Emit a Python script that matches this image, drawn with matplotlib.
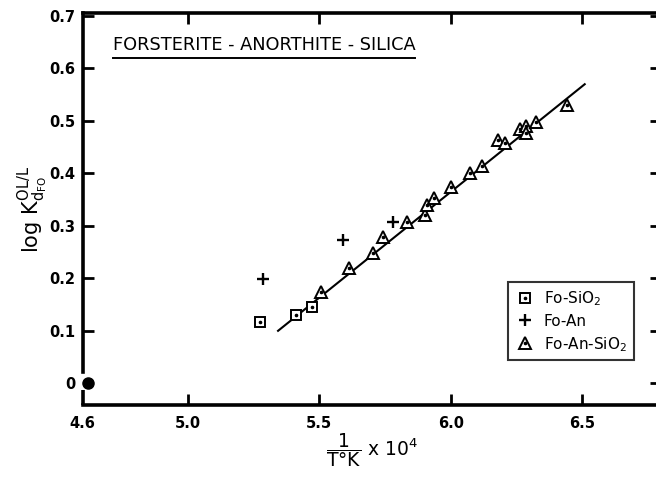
import numpy as np
import matplotlib
matplotlib.use("Agg")
import matplotlib.pyplot as plt
from matplotlib.legend_handler import HandlerTuple

plt.rcParams['font.family'] = ['DejaVu Sans']
plt.rcParams['mathtext.fontset'] = 'dejavusans'

# Fo-SiO2 runs
fs_x = [5.274, 5.411, 5.472]
fs_y = [0.116, 0.130, 0.145]

# Fo-An runs
fa_x = [5.285, 5.589, 5.779]
fa_y = [0.198, 0.272, 0.307]

# Fo-An-SiO2 runs
fas_x = [5.505, 5.613, 5.705, 5.743, 5.835, 5.901, 5.911, 5.937, 6.000,
         6.073, 6.120, 6.179, 6.205, 6.264, 6.284, 6.287, 6.323, 6.440]
fas_y = [0.174, 0.219, 0.247, 0.278, 0.307, 0.320, 0.339, 0.352, 0.374,
         0.400, 0.414, 0.463, 0.457, 0.485, 0.490, 0.476, 0.498, 0.530]

# fitted line end points
fit_x = [5.343, 6.509]
fit_y = [0.0996, 0.5695]

# reference point on the y axis
origin_x = [4.62]
origin_y = [0.0]

xticks = [4.6, 5.0, 5.5, 6.0, 6.5]
xticklabels = ['4.6', '5.0', '5.5', '6.0', '6.5']
yticks = [0.0, 0.1, 0.2, 0.3, 0.4, 0.5, 0.6, 0.7]
yticklabels = ['0', '0.1', '0.2', '0.3', '0.4', '0.5', '0.6', '0.7']

fig = plt.figure(figsize=(6.56, 4.80), dpi=100)
ax = fig.add_axes([0.126, 0.156, 0.882, 0.8167])
ax.set_xlim(4.6, 6.8)
ax.set_ylim(-0.042, 0.705)

lw = 2.6
for side in ['left', 'bottom', 'top', 'right']:
    ax.spines[side].set_linewidth(lw)

# gap in the left spine around zero
ax.spines['left'].set_bounds(0.021, 0.705)
ax.plot([0, 0], [-0.042, -0.013], transform=ax.get_yaxis_transform(),
        color='k', lw=lw, clip_on=False, solid_capstyle='butt')

ax.set_xticks(xticks)
ax.set_xticklabels(xticklabels)
ax.set_yticks(yticks)
ax.set_yticklabels(yticklabels)
ax.tick_params(axis='both', direction='in', length=8, width=2,
               labelsize=10.5, top=True, right=True)
ax.tick_params(axis='x', pad=8)
ax.tick_params(axis='y', pad=5)
for lab in ax.get_xticklabels() + ax.get_yticklabels():
    lab.set_fontweight('bold')
# first x tick sits on the spine, no tick mark there; no left tick at 0
ax.xaxis.get_major_ticks()[0].tick1line.set_visible(False)
ax.xaxis.get_major_ticks()[0].tick2line.set_visible(False)
ax.yaxis.get_major_ticks()[0].tick1line.set_visible(False)

ax.plot(origin_x, origin_y, 'o', color='k', ms=8, clip_on=False, zorder=5)

ax.plot(fit_x, fit_y, color='k', lw=1.5, zorder=2)

sq = ax.plot(fs_x, fs_y, 's', ms=6.5, mfc='white', mec='k', mew=1.4,
             ls='none', zorder=3)[0]
sq_dot = ax.plot(fs_x, fs_y, 'o', ms=1.6, color='k', ls='none', zorder=4)[0]
pl = ax.plot(fa_x, fa_y, '+', ms=8.5, mew=1.7, color='k', ls='none', zorder=3)[0]
tri = ax.plot(fas_x, fas_y, '^', ms=8, mfc='white', mec='k', mew=1.4,
              ls='none', zorder=3)[0]
tri_dot = ax.plot(fas_x, fas_y, 'o', ms=1.6, color='k', ls='none', zorder=4)[0]

leg = ax.legend([(sq, sq_dot), pl, (tri, tri_dot)],
                [r'Fo-SiO$_2$', 'Fo-An', r'Fo-An-SiO$_2$'],
                handler_map={tuple: HandlerTuple(ndivide=1)},
                loc='upper left', bbox_to_anchor=(0.735, 0.314),
                borderaxespad=0, fontsize=11, frameon=True, fancybox=False,
                handlelength=1.4, handletextpad=0.5, labelspacing=0.4,
                borderpad=0.45)
leg.get_frame().set_edgecolor('k')
leg.get_frame().set_linewidth(1.5)

title = ax.text(0.052, 0.906, 'FORSTERITE - ANORTHITE - SILICA',
                transform=ax.transAxes, fontsize=12.8, ha='left',
                va='baseline')
fig.canvas.draw()
bb = title.get_window_extent().transformed(ax.transAxes.inverted())
ax.plot([bb.x0, bb.x1], [bb.y0 - 0.01, bb.y0 - 0.01],
        transform=ax.transAxes, color='k', lw=1.4, clip_on=False)

ax.set_ylabel(r'$\mathrm{log\ K}_{\mathrm{d}_{\mathrm{FO}}}^{\mathrm{OL/L}}$',
              fontsize=15, labelpad=0)
ax.set_xlabel(r'$\dfrac{\mathrm{1}}{\mathrm{T\degree K}}\ \mathrm{x\ 10}^{4}$',
              fontsize=13.5, labelpad=0)

fig.savefig('out.png', dpi=100)
